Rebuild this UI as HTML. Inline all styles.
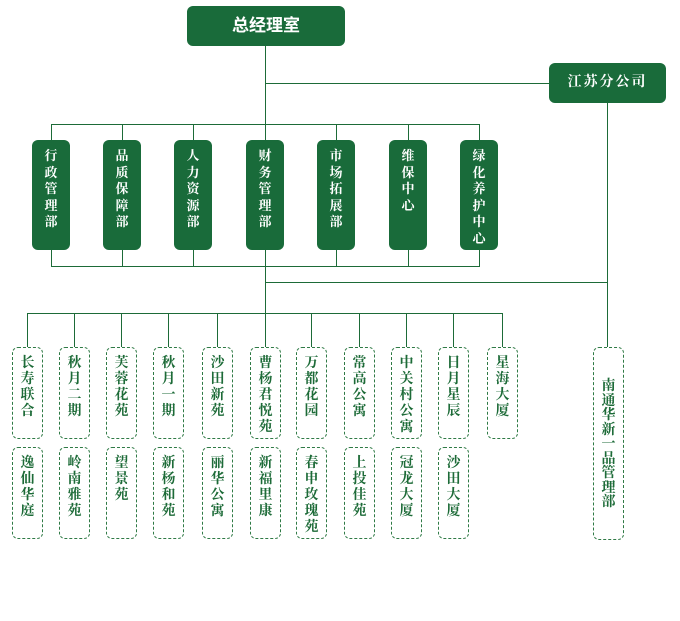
<!DOCTYPE html><html><head><meta charset="utf-8"><style>
body{margin:0;width:680px;height:621px;background:#fff;position:relative;overflow:hidden;font-family:"Liberation Serif","Noto Serif CJK SC",serif}
.l{position:absolute;background:#1d6b38}
.g{position:absolute;background:#196b3a;color:#fff;border-radius:6px;text-align:center;font-weight:bold}
.v{position:absolute;width:38px;height:110px;background:#196b3a;color:#fff;border-radius:6px;text-align:center;font-weight:bold;font-size:13px;line-height:16.5px;padding-top:8px;box-sizing:border-box}
.d{position:absolute;width:31px;height:92px;border:1.5px dashed #2f7a45;border-radius:6px;box-sizing:border-box;color:#1d6b38;font-weight:bold;font-size:14px;line-height:16px;text-align:center;padding-top:8px}
</style></head><body>
<div class="g" style="left:187px;top:6px;width:158px;height:40px;line-height:40px;font-size:17px;font-family:'Liberation Sans','Noto Sans CJK SC',sans-serif">总经理室</div>
<div class="g" style="left:549px;top:63px;width:117px;height:40px;line-height:40px;font-size:14px;letter-spacing:2px">江苏分公司</div>
<div class="l" style="left:265px;top:46px;width:1px;height:267px"></div>
<div class="l" style="left:265px;top:83px;width:284px;height:1px"></div>
<div class="l" style="left:51px;top:124px;width:429px;height:1px"></div>
<div class="l" style="left:51px;top:266px;width:429px;height:1px"></div>
<div class="l" style="left:265px;top:282px;width:342px;height:1px"></div>
<div class="l" style="left:607px;top:103px;width:1px;height:244px"></div>
<div class="l" style="left:27px;top:313px;width:476px;height:1px"></div>
<div id="depts"></div>
<script>
var dn=["行政管理部","品质保障部","人力资源部","财务管理部","市场拓展部","维保中心","绿化养护中心"],dx=[51,122,193,265,336,408,479],h="";
dn.forEach(function(t,i){h+='<div class="l" style="left:'+dx[i]+'px;top:124px;width:1px;height:142px"></div><div class="v" style="left:'+(dx[i]-19)+'px;top:140px">'+t.split("").join("<br>")+'</div>';});
var r1=["长寿联合","秋月二期","芙蓉花苑","秋月一期","沙田新苑","曹杨君悦苑","万都花园","常高公寓","中关村公寓","日月星辰","星海大厦"],
r2=["逸仙华庭","岭南雅苑","望景苑","新杨和苑","丽华公寓","新福里康","春申玫瑰苑","上投佳苑","冠龙大厦","沙田大厦"],
px=[27,74,121,168,217,265,311,359,406,453,502];
r1.forEach(function(t,i){h+='<div class="l" style="left:'+px[i]+'px;top:313px;width:1px;height:34px"></div><div class="d" style="left:'+(px[i]-15)+'px;top:347px">'+t.split("").join("<br>")+'</div>';});
r2.forEach(function(t,i){h+='<div class="d" style="left:'+(px[i]-15)+'px;top:447px">'+t.split("").join("<br>")+'</div>';});
h+='<div class="d" style="left:593px;top:347px;height:193px;padding-top:32px;line-height:14.5px">'+"南通华新一品管理部".split("").join("<br>")+'</div>';
document.getElementById("depts").innerHTML=h;
</script>
</body></html>
